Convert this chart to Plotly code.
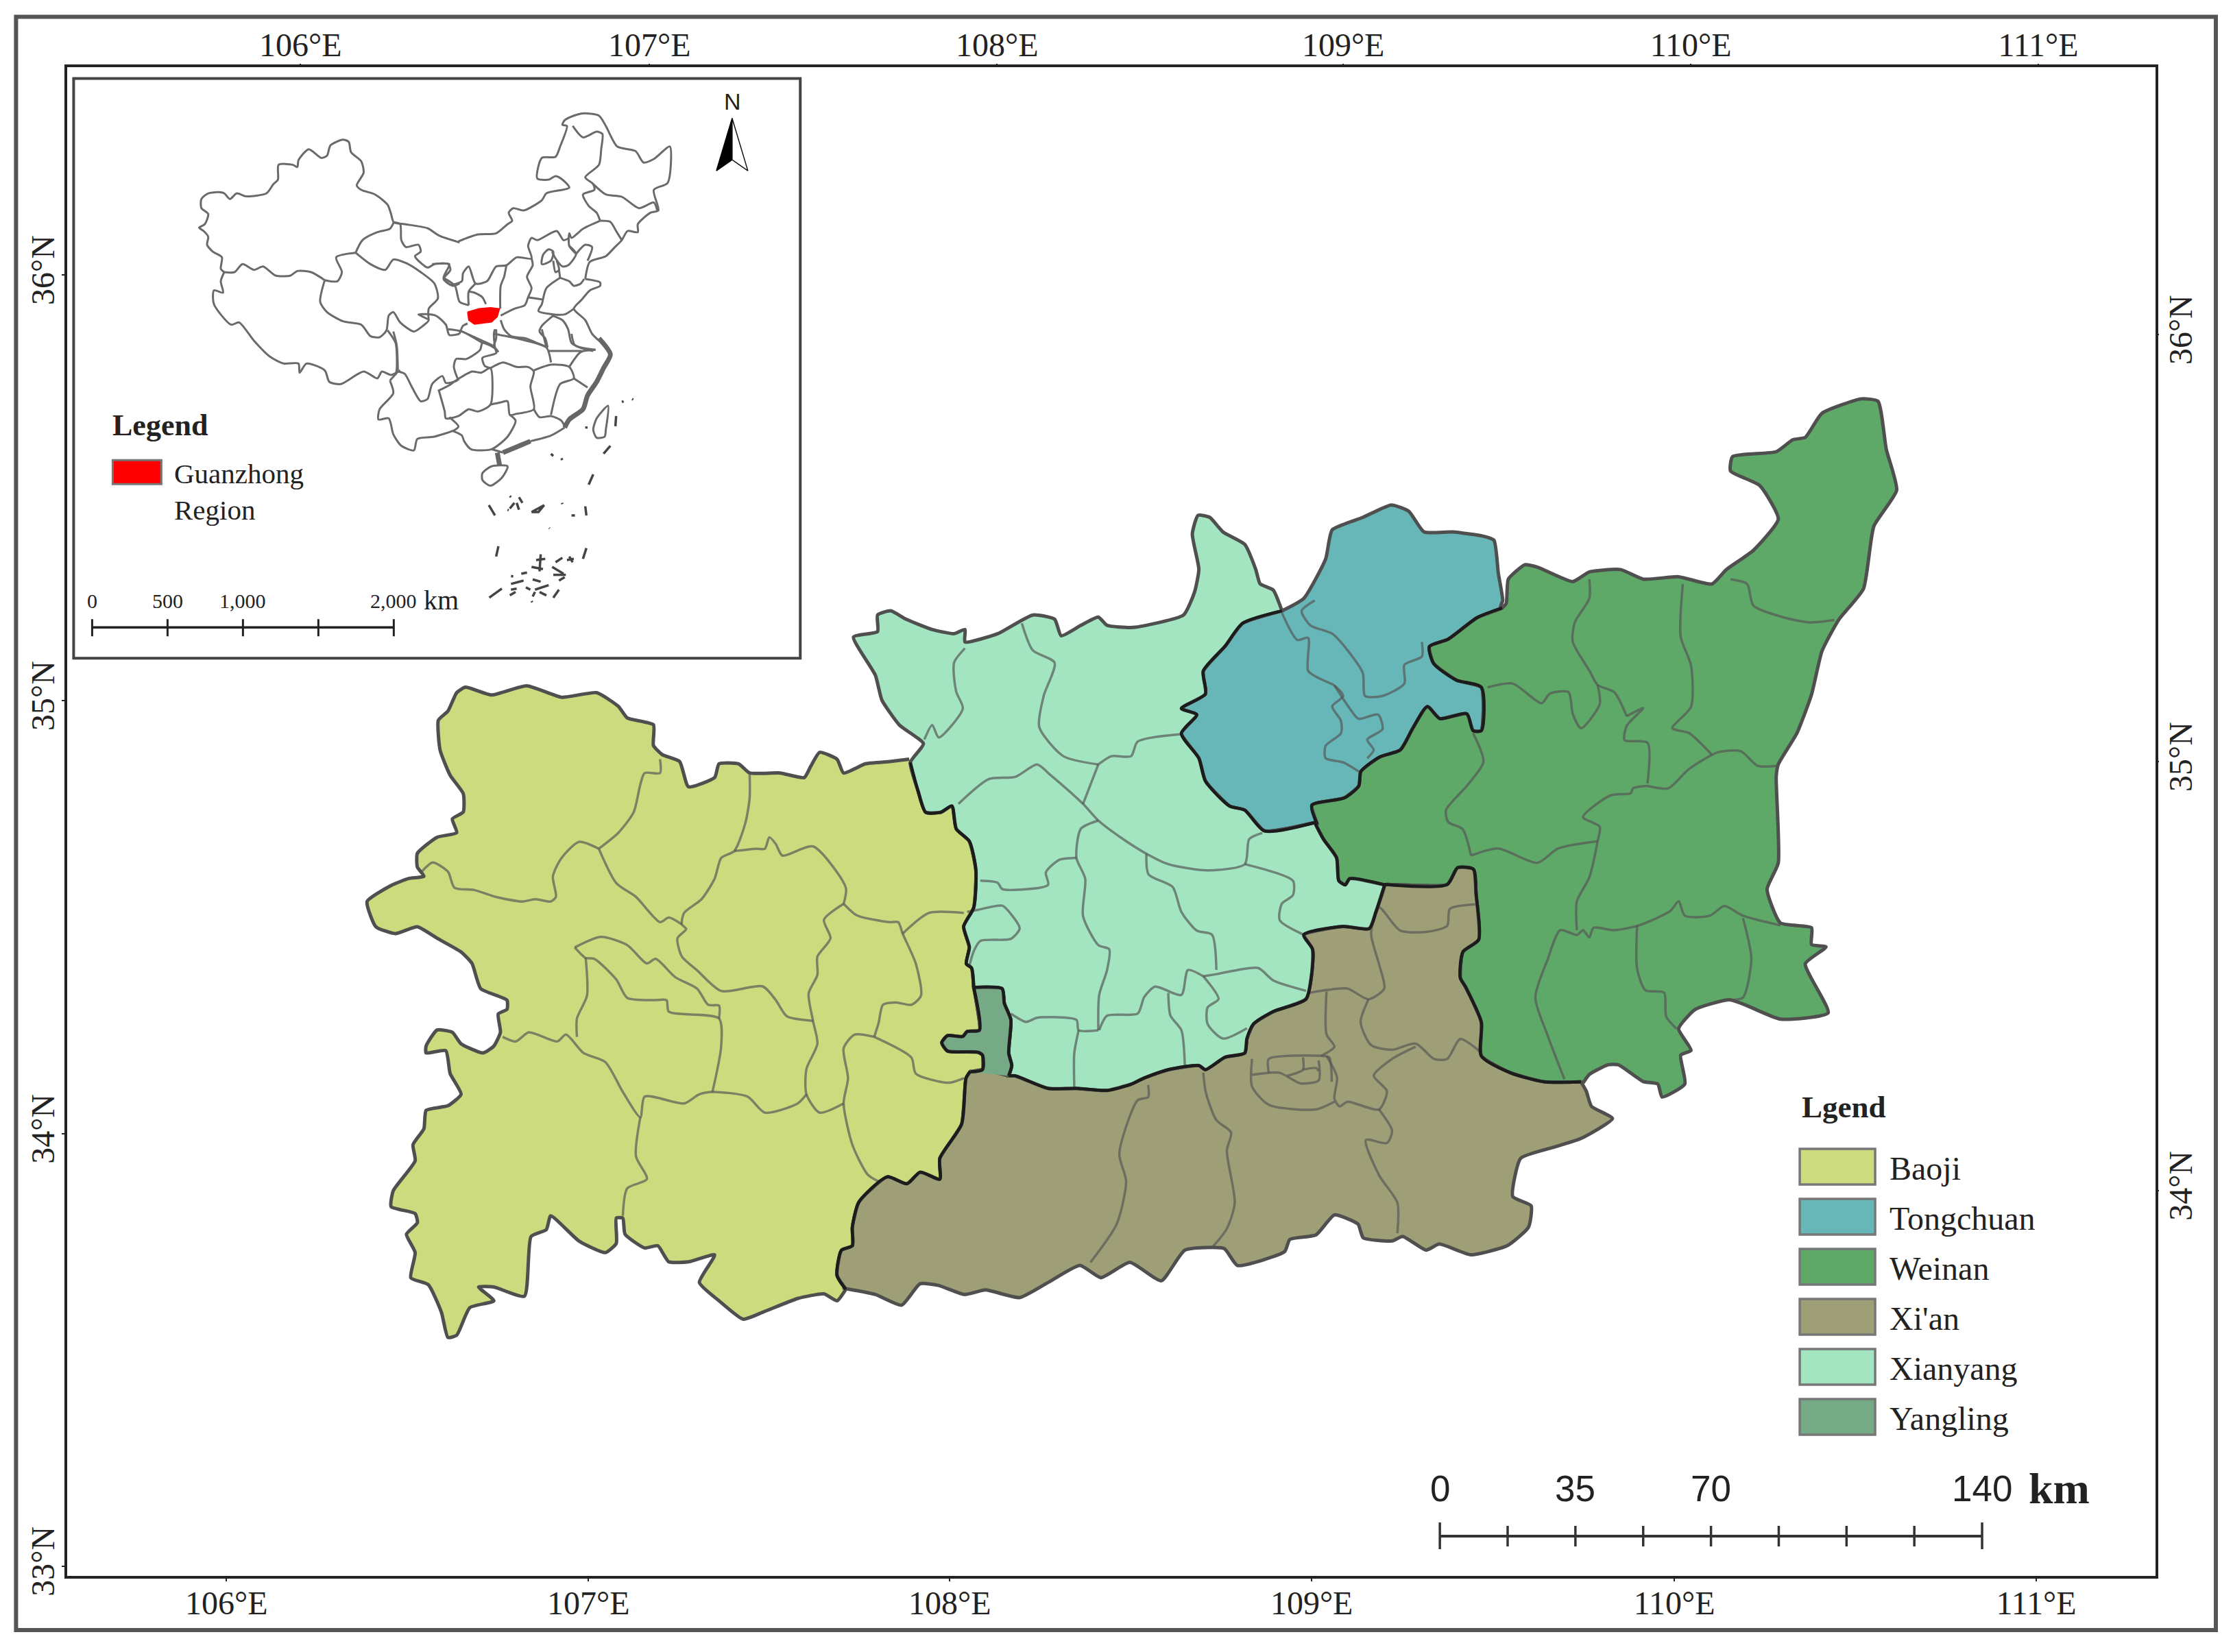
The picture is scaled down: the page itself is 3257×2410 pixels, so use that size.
import plotly.graph_objects as go

# map is traced in reference pixels; each traced list comes from one crop window
# window = (left, top, width, height, size of the crop picture)
T1 = (0, 0, 1200, 1000, 1568)
T2 = (500, 950, 1000, 1050, 1568)
T3 = (1200, 700, 1000, 950, 1568)
T4 = (1900, 550, 950, 1100, 1568)
T5 = (1200, 1250, 1200, 700, 1568)
C1 = (270, 180, 400, 400, 1200)
C2 = (620, 150, 400, 400, 1200)
C3 = (540, 480, 400, 400, 1200)


def crop(box, pts):
    x0, y0, w, h, win = box
    return [(x0 + px * w / win, y0 + py * h / win) for px, py in pts]


CITY_NAMES = ["Baoji", "Tongchuan", "Weinan", "Xi'an", "Xianyang", "Yangling"]
CITY_COLORS = ["#CDDB7F", "#67B6B8", "#5EA868", "#9F9F77", "#A3E5C1", "#76A986"]

# outer and shared borders
BAOJI_OUTER = crop(T2, [(1295,235),(1250,240),(1195,245),(1145,265),(1130,235),(1090,220),(1070,250),(1055,275),(1000,265),(930,265),(905,245),(860,245),(850,275),(790,295),(770,240),(730,225),(710,205),(710,160),(650,145),(630,120),(580,90),(500,100),(420,75),(340,95),(280,78),(260,90),(240,130),(218,150),(222,215),(245,270),(275,310),(275,350),(250,365),(260,395),(215,405),(170,440),(170,470),(185,490),(150,495),(110,510),(55,545),(75,600),(120,615),(170,600),(215,625),(270,655),(295,680),(315,735),(375,760),(375,780),(355,790),(360,830),(345,860),(320,875),(270,855),(250,830),(215,825),(190,860),(190,875),(235,870),(245,920),(270,965),(240,990),(190,1000),(185,1040),(160,1075),(165,1110),(115,1175),(110,1210),(165,1225),(170,1245),(145,1270),(165,1310),(155,1365),(195,1380),(225,1440),(240,1495),(260,1490),(290,1430),(345,1415),(310,1385),(345,1385),(415,1405),(430,1275),(465,1260),(475,1230),(540,1285),(600,1310),(625,1290),(625,1235),(640,1235),(645,1270),(690,1300),(720,1295),(745,1330),(790,1330),(850,1315),(815,1375),(860,1415),(915,1455),(960,1440),(1040,1410),(1100,1400),(1130,1415),(1150,1390)])
BAOJI_XIAN = crop(T2, [(1150,1390),(1130,1360),(1140,1305),(1165,1295),(1165,1255),(1180,1200),(1245,1145),(1290,1160),(1320,1135),(1365,1150),(1365,1105),(1415,1030),(1425,930),(1435,915)])
YANGLING_WEST = crop(T3, [(338,1425),(365,1420),(365,1385),(355,1378),(285,1375),(272,1355),(285,1338),(320,1340),(330,1328),(358,1325),(345,1222)])
YANGLING_EAST = crop(T3, [(345,1222),(410,1225),(415,1260),(430,1300),(425,1380),(432,1410),(425,1435)])
BAOJI_XIANYANG = crop(T3, [(345,1222),(340,1175),(328,1165),(335,1125),(322,1075),(345,1030),(350,940),(335,870),(305,840),(295,785),(270,800),(235,800),(218,750),(200,680)])
XIANYANG_NORTH = crop(T3, [(200,680),(230,635),(175,590),(135,530),(120,470),(70,378),(125,365),(125,325),(155,315),(190,335),(250,360),(300,370),(325,360),(325,390),(400,370),(480,325),(530,335),(545,375),(590,350),(630,330),(650,350),(710,355),(825,325),(850,270),(860,215),(845,130),(858,85),(885,90),(915,125),(965,155),(990,215),(1000,250),(1030,265),(1050,315)])
XIANYANG_TONGCHUAN = crop(T3, [(1050,315),(960,345),(920,400),(870,460),(875,515),(820,550),(855,565),(820,610),(860,670),(875,725),(930,785),(965,795),(1010,845),(1125,825)])
XIANYANG_WEINAN = crop(T3, [(1125,825),(1145,865),(1175,910),(1180,965),(1195,975),(1205,960),(1285,975)])
XIANYANG_XIAN = crop(T3, [(1285,975),(1265,1040),(1250,1080),(1190,1075),(1100,1095),(1120,1130),(1118,1190),(1105,1250),(1030,1280),(985,1310),(970,1345),(965,1380),(920,1390),(875,1420),(860,1410),(790,1420),(735,1440),(705,1455),(650,1470),(580,1465),(515,1465),(440,1435),(425,1435)])
XIAN_SOUTH = crop(T5, [(40,1410),(100,1430),(150,1465),(185,1395),(220,1400),(270,1430),(310,1415),(375,1440),(430,1390),(490,1335),(530,1375),(585,1325),(645,1385),(690,1285),(765,1280),(790,1335),(880,1290),(890,1250),(940,1235),(975,1170),(1020,1200),(1030,1245),(1085,1255),(1105,1240),(1150,1285),(1175,1265),(1235,1300),(1305,1270),(1345,1210),(1350,1140),(1315,1110),(1330,985),(1390,950),(1445,920),(1505,855),(1465,815),(1455,765),(1445,735)])
XIAN_WEINAN = crop(T5, [(1445,735),(1375,735),(1310,705),(1255,650),(1255,540),(1225,425),(1215,395),(1220,310),(1250,270),(1245,120),(1240,40),(1210,35),(1190,90),(1070,90)])
WEINAN_OUTER = crop(T4, [(675,1468),(690,1450),(735,1430),(760,1430),(820,1465),(855,1470),(865,1497),(920,1470),(910,1410),(935,1400),(905,1355),(945,1315),(1030,1295),(1150,1335),(1265,1322),(1210,1220),(1260,1185),(1225,1180),(1225,1145),(1150,1135),(1118,1065),(1145,1010),(1140,830),(1145,805),(1190,740),(1225,660),(1250,570),(1290,505),(1350,440),(1375,310),(1430,235),(1405,150),(1385,50),(1345,45),(1250,75),(1210,125),(1180,130),(1140,155),(1035,165),(1030,195),(1100,225),(1145,295),(1085,360),(1020,400),(985,430),(905,415),(820,420),(765,400),(690,405),(650,425),(565,395),(535,390),(495,420),(490,470)])
WEINAN_TONGCHUAN = crop(T4, [(480,480),(420,500),(350,545),(305,560),(315,595),(370,630),(430,645),(430,735),(410,735),(395,700),(330,710),(300,685),(265,730),(235,775),(185,790),(140,820),(135,850),(100,875),(22,890),(35,930)])
TONGCHUAN_OUTER = crop(T3, [(1050,315),(1100,285),(1150,190),(1165,120),(1235,90),(1300,60),(1340,75),(1375,125),(1440,125),(1510,135),(1535,145),(1545,225),(1555,290),(1550,305)])

SHARED_BORDERS = [BAOJI_XIAN, YANGLING_WEST, YANGLING_EAST, BAOJI_XIANYANG, XIANYANG_TONGCHUAN,
                  XIANYANG_WEINAN, XIANYANG_XIAN, XIAN_WEINAN, WEINAN_TONGCHUAN]

CITY_OUTLINES = [
    BAOJI_OUTER + BAOJI_XIAN + YANGLING_WEST + BAOJI_XIANYANG,
    XIANYANG_TONGCHUAN[::-1] + TONGCHUAN_OUTER + WEINAN_TONGCHUAN,
    WEINAN_OUTER + WEINAN_TONGCHUAN + XIANYANG_WEINAN + XIAN_WEINAN[::-1],
    YANGLING_WEST[:2] + YANGLING_EAST[-1:] + XIANYANG_XIAN[::-1] + XIAN_WEINAN[::-1] + XIAN_SOUTH[::-1] + BAOJI_XIAN,
    XIANYANG_NORTH + XIANYANG_TONGCHUAN + XIANYANG_WEINAN + XIANYANG_XIAN + YANGLING_EAST[::-1] + BAOJI_XIANYANG,
    YANGLING_WEST + YANGLING_EAST,
]

# county borders inside each city
COUNTY_LINES = [crop(T2, s) for s in [
    [(725,235),(725,265),(690,265),(680,290),(665,350),(630,395),(585,430)],
    [(585,430),(540,415),(500,450),(480,490),(487,535),(475,545),(440,540),(410,545),(350,535),(300,520),(255,515),(240,480),(205,460),(180,480)],
    [(585,430),(625,505),(670,535),(725,590),(745,580),(775,595)],
    [(930,265),(930,320),(920,375),(895,435),(865,450),(850,495),(820,540),(780,570),(775,595),(785,605),(765,625),(775,665),(810,695),(865,740),(960,730),(990,760),(1015,795),(1075,805)],
    [(895,435),(945,430),(965,430),(975,405),(990,420),(1005,445),(1075,425),(1150,515),(1145,550)],
    [(1145,550),(1100,585),(1115,625),(1085,665),(1085,705),(1065,745),(1075,805),(1085,855),(1060,910),(1060,965),(1090,1005),(1145,985)],
    [(1145,550),(1175,575),(1250,590),(1270,590),(1280,615),(1310,680),(1322,750),(1300,770),(1265,765),(1235,770),(1225,810),(1215,840)],
    [(1280,615),(1340,570),(1420,570)],
    [(1215,840),(1170,835),(1145,865),(1155,930),(1145,985),(1165,1075),(1200,1140),(1225,1155)],
    [(1215,840),(1300,885),(1310,920),(1385,940),(1420,930)],
    [(530,645),(590,622),(650,640),(695,680),(715,670),(760,710),(810,735),(835,770),(860,772),(860,800)],
    [(530,645),(555,668),(575,670),(625,715),(650,755),(710,760),(740,760),(745,785),(860,800),(865,860),(845,960)],
    [(555,668),(558,750),(535,800),(535,840)],
    [(365,840),(395,850),(425,830),(490,850),(510,835),(550,875),(600,895),(640,960),(680,1015),(690,970),(780,985),(815,965),(845,960),(925,970),(965,1005),(1040,985),(1060,965)],
    [(680,1015),(670,1100),(695,1150),(650,1170),(640,1230)],
]] + [crop(T3, s) for s in [
    [(325,405),(300,440),(305,510),(320,550),(265,620),(250,590),(232,625)],
    [(455,345),(480,410),(530,440),(505,520),(495,595),(550,665),(630,685)],
    [(630,685),(660,665),(705,665),(720,630),(820,612)],
    [(630,685),(595,780)],
    [(310,780),(380,720),(440,715),(490,685),(520,710),(595,780),(630,820),(680,860),(740,900),(790,925),(880,940),(965,925),(975,865),(1005,850)],
    [(630,820),(590,840),(580,910),(600,960),(595,1050),(630,1120),(655,1130),(650,1180),(632,1240),(630,1325)],
    [(580,910),(540,915),(510,945),(515,975),(410,985),(400,970),(360,965)],
    [(740,900),(745,950),(800,980),(820,1040),(855,1085),(890,1095),(900,1180)],
    [(965,925),(1075,965),(1075,1000),(1050,1020),(1045,1060),(1100,1095)],
    [(870,1195),(900,1190),(995,1175),(1030,1205),(1105,1230)],
    [(870,1195),(835,1180),(820,1240),(760,1220),(735,1245),(720,1285),(650,1290),(632,1325)],
    [(870,1195),(905,1250),(880,1270),(880,1310),(915,1345),(970,1320)],
    [(790,1235),(795,1290),(820,1325),(828,1415)],
    [(430,1285),(465,1305),(490,1295),(580,1300),(585,1325),(630,1325)],
    [(585,1325),(575,1380),(575,1462)],
    [(330,1040),(355,1035),(410,1025),(430,1045),(450,1080),(430,1105),(360,1110),(345,1135),(335,1170)],
    [(1050,320),(1085,385),(1110,380),(1110,460),(1140,480),(1170,495),(1190,520),(1165,545),(1185,580),(1185,610),(1150,640),(1150,670),(1190,680),(1230,705)],
    [(1125,290),(1095,315),(1115,350),(1165,370),(1200,410),(1235,465),(1240,520),(1280,520),(1330,490),(1330,445),(1370,425),(1370,390)],
    [(1170,495),(1205,550),(1225,575),(1270,565),(1280,600),(1245,625),(1260,650),(1245,670)],
]] + [crop(T4, s) for s in [
    [(690,420),(690,460),(655,510),(650,550),(690,610),(710,640),(750,655),(780,705)],
    [(445,645),(505,637),(575,678),(595,658),(640,655),(650,700),(670,730),(715,680),(710,640)],
    [(780,705),(820,688),(780,725),(775,755),(830,760),(830,845)],
    [(915,430),(910,540),(935,600),(935,685),(890,730),(930,740),(985,785)],
    [(830,850),(880,855),(930,815),(1000,780),(1055,778),(1095,808),(1145,808)],
    [(1030,420),(1070,430),(1085,475),(1160,500),(1220,510),(1280,505)],
    [(830,850),(795,855),(790,865),(740,870),(675,915),(715,935),(710,965),(690,1040),(660,1090),(660,1150)],
    [(410,740),(435,800),(395,850),(345,900),(350,925),(385,940),(405,995)],
    [(405,995),(470,980),(565,1010),(615,980),(710,965)],
    [(1150,1140),(1060,1120),(1015,1100),(980,1120),(920,1120),(905,1090),(885,1110),(810,1140),(750,1150),(700,1145),(690,1165),(675,1150),(660,1160),(620,1150),(590,1210),(560,1290),(590,1370),(630,1460)],
    [(805,1140),(805,1230),(825,1275),(870,1280),(875,1330),(900,1355)],
    [(1060,1125),(1080,1210),(1060,1290),(1030,1295)],
]] + [crop(T5, s) for s in [
    [(620,745),(620,785),(600,795),(565,970),(578,1060),(560,1200),(510,1325)],
    [(725,705),(730,770),(750,860),(778,900),(770,960),(785,1130),(770,1215),(740,1280)],
    [(925,445),(960,435),(1000,430),(1040,465),(1070,430),(1060,350),(1045,250),(1060,165),(1100,240),(1150,245),(1190,225),(1195,170),(1245,155)],
    [(1040,465),(1025,540),(1045,615),(1085,630),(1130,610),(1165,660),(1190,660),(1215,595),(1255,640)],
    [(960,440),(960,580),(975,620),(950,650)],
    [(1130,620),(1085,660),(1050,715),(1075,765),(1060,825),(1000,800),(985,815),(975,790),(980,720),(960,650)],
    [(1060,825),(1085,895),(1075,935),(1035,925),(1060,1040),(1095,1130),(1095,1230)],
    [(818,660),(818,750),(850,810),(940,825),(975,800)],
    [(818,712),(870,705),(910,740),(945,730),(945,665)],
    [(850,705),(850,660),(950,650),(965,655),(970,735)],
    [(915,655),(915,695),(885,715)],
    [(915,695),(940,690),(945,700)],
]]

# inset map of China
CHINA_WEST = [crop(C1, s) for s in [
    [(170,650),(155,635),(160,585),(120,560),(95,530),(100,495),(80,470),(60,455),(85,440),(100,395),(70,370),(70,330),(100,305),(145,300),(170,305),(195,330),(225,305),(265,318),(355,305),(385,265),(405,245),(408,180),(470,180),(490,190),(495,160),(540,112),(595,150),(620,140),(635,95),(690,70),(715,80),(725,125),(770,165),(780,215),(750,270),(770,290),(830,310),(885,355),(900,395),(912,432),(960,440),(1060,458),(1110,490),(1200,520)],
    [(170,650),(215,650),(250,615),(300,640),(340,625),(395,665),(460,665),(490,645),(550,650),(610,685)],
    [(610,685),(665,690),(685,650),(660,585),(745,565)],
    [(745,565),(775,510),(840,475),(895,460),(912,432)],
    [(745,565),(810,615),(875,640),(910,595),(965,610),(1030,650),(1090,700),(1105,765),(1065,810),(1065,860)],
    [(610,685),(590,780),(620,825),(690,865),(770,880),(810,930),(850,935),(880,905),(890,840),(910,825),(940,870),(1000,910),(1040,885),(1065,860),(1020,835),(1095,840),(1140,880),(1155,925),(1200,920)],
    [(885,905),(920,960),(925,1075),(920,1100)],
    [(170,650),(155,690),(165,740),(125,730),(125,790),(200,880),(235,870),(300,950),(370,1020),(430,1050),(495,1050),(500,1090),(530,1050),(610,1080),(630,1130),(680,1140),(780,1085),(840,1115),(860,1085),(900,1100),(940,1080)],
    [(912,432),(940,440),(945,510),(965,540),(1020,530),(1030,560),(1005,580),(1060,630),(1090,615),(1150,615),(1160,640),(1130,680),(1170,710),(1200,700)],
]]
CHINA_NORTH = [crop(C2, s) for s in [
    [(145,605),(230,575),(310,570),(360,530),(380,515),(365,480),(385,460),(430,470),(510,425),(530,395),(630,370),(600,335),(570,320),(540,335),(490,330),(510,240),(570,235),(590,190),(620,100),(600,95),(610,75),(650,55),(690,45),(760,55),(790,100),(840,190),(920,210),(955,260),(1000,245),(1070,190),(1075,260),(1060,350),(1000,380),(1020,470),(985,480),(930,530),(930,565),(885,560),(860,600),(830,630),(790,670),(720,695),(700,770)],
    [(645,100),(690,150),(750,125),(775,135),(770,200),(760,270),(700,325),(735,355),(740,380),(690,400),(715,450),(750,480),(765,515)],
    [(735,355),(790,400),(860,410),(935,460),(1000,435),(1015,470)],
    [(765,515),(810,520),(835,560),(860,600)],
    [(765,515),(690,550),(640,590),(630,570),(630,625),(660,660)],
    [(630,590),(605,600),(575,560),(490,600),(465,590),(450,625),(465,680),(400,675),(355,710),(310,715),(270,780),(220,790),(190,715),(165,745),(160,780),(110,795),(80,765),(105,705),(30,705)],
    [(465,680),(470,710),(445,760),(465,810),(450,850),(435,885),(390,900),(330,930)],
    [(450,850),(515,860)],
    [(355,710),(345,760),(330,800),(328,900)],
    [(80,765),(130,800),(150,870),(190,885)],
    [(190,825),(215,830),(250,850),(265,880)],
    [(220,790),(190,825),(190,885)],
    [(150,1010),(165,975),(185,965)],
    [(150,995),(250,1040),(300,1065),(320,1090)],
    [(330,950),(345,990),(375,1020),(440,1030),(500,1055),(535,1070)],
    [(310,990),(310,1030),(300,1060)],
    [(540,640),(515,665),(510,705),(550,690),(560,650),(540,640)],
    [(560,690),(570,740),(585,730),(575,690)],
    [(630,625),(660,660),(625,710),(600,715),(570,680),(555,650)],
    [(585,730),(590,765)],
    [(660,660),(700,620),(730,630),(710,690)],
    [(590,765),(630,780),(650,800),(680,790),(695,770)],
    [(515,860),(530,810),(590,765)],
    [(515,860),(510,880),(495,910),(560,925),(610,925),(650,900)],
    [(700,770),(765,785),(765,800),(720,820),(685,860),(650,900),(700,950),(730,1010),(760,1040)],
    [(555,930),(600,950),(625,990),(640,1050),(690,1075),(735,1085)],
    [(560,930),(510,975),(500,1000),(525,1030),(535,1070)],
]]
CHINA_SOUTH = [crop(C3, s) for s in [
    [(100,10),(115,70),(120,180)],
    [(85,225),(100,280),(40,350),(35,395),(80,390),(100,460),(135,510),(190,530),(205,480),(280,470),(370,440),(385,425),(345,385)],
    [(120,185),(85,225)],
    [(120,185),(150,195),(180,250),(220,315),(250,305),(270,240),(315,205),(330,235),(380,225)],
    [(300,270),(310,305),(325,360),(330,390),(385,380),(430,350),(470,360),(525,330),(525,170),(485,190),(445,185),(380,220),(345,245),(295,270)],
    [(385,225),(365,165),(375,130),(420,130),(480,90),(490,60),(545,85),(550,105),(490,125),(500,160),(525,170)],
    [(525,170),(580,145),(640,165),(690,165),(715,185),(700,250),(715,350),(640,370),(610,375),(600,315),(570,320),(525,330)],
    [(715,180),(790,155),(870,165),(890,215),(830,240),(790,375)],
    [(715,350),(740,385),(790,380),(835,400),(850,425)],
    [(890,215),(950,255)],
    [(870,165),(920,100),(985,90)],
    [(545,85),(540,20),(545,0)],
    [(490,60),(400,10),(340,0)],
    [(540,20),(640,40),(770,80),(790,145)],
    [(780,95),(925,95)],
    [(770,80),(750,0)],
    [(880,20),(895,70),(985,90)],
    [(610,375),(635,400),(600,470),(530,525),(440,525),(410,490),(400,465),(360,445)],
    [(850,430),(790,465),(700,490)],
    [(530,525),(580,540)],
    [(490,630),(530,600),(600,600),(575,650),(525,685),(490,660),(490,630)],
    [(1040,335),(1030,440),(1025,470),(990,475),(975,440),(990,390),(1040,335)],
]]
CHINA_COAST_THICK = [crop(C3, s) for s in [
    [(1000,40),(1050,110),(1020,170),(990,230),(950,290),(930,350),(870,395),(850,430)],
    [(700,490),(640,515),(580,540)],
    [(555,540),(565,595)],
]]
CHINA_ISLANDS = [crop(C3, s) for s in [
    [(945,425),(945,435)],[(1075,380),(1072,425)],[(1020,545),(1050,510)],[(790,545),(800,555)],[(835,565),(840,572)],
    [(1100,318),(1108,315)],[(1145,305),(1150,308)],[(975,635),(955,680)],[(518,770),(545,815)],
    [(610,730),(615,735)],[(630,760),(610,785)],[(650,735),(665,760)],[(640,760),(650,790)],[(600,790),(605,792)],
    [(705,800),(760,770),(735,800),(705,800)],[(838,760),(840,765)],[(880,815),(895,815)],[(940,775),(945,815)],[(782,870),(784,872)],
    [(560,950),(550,995)],[(945,958),(930,1005)],[(745,985),(740,1060)],[(725,1010),(765,1005)],[(705,1040),(755,1050)],
    [(795,1040),(845,1070)],[(810,1020),(840,1000)],[(870,995),(885,1020)],[(860,1010),(890,1005)],[(800,1075),(855,1075)],
    [(825,1100),(850,1085)],[(660,1070),(685,1065)],[(615,1080),(625,1082)],[(615,1115),(670,1100)],[(710,1095),(745,1105)],
    [(615,1140),(640,1135)],[(610,1165),(635,1150)],[(680,1130),(700,1140)],[(720,1140),(780,1120)],[(710,1170),(720,1150)],
    [(740,1150),(770,1165)],[(800,1175),(825,1140)],[(520,1175),(575,1135)],[(705,1190),(708,1195)],
]]
GUANZHONG = crop(C2, [(185,915),(235,900),(285,895),(325,900),(315,935),(290,958),(215,968),(190,950),(185,915)])
NORTH_LEFT = crop(T1, [(1395,270),(1365,390),(1395,365),(1395,270)])
NORTH_RIGHT = crop(T1, [(1395,270),(1425,390),(1395,365),(1395,270)])

# tick positions in reference pixels with their labels
LON_LABELS = ["106°E", "107°E", "108°E", "109°E", "110°E", "111°E"]
LON_BOTTOM = [330, 858, 1385, 1913, 2442, 2970]
LON_TOP = [438, 947, 1454, 1959, 2466, 2973]
LAT_LABELS = ["33°N", "34°N", "35°N", "36°N"]
LAT_LEFT = [2285, 1654, 1022, 401]
LAT_RIGHT = [None, 1737, 1111, 488]

SCALE_KM = [0, 17.5, 35, 52.5, 70, 87.5, 105, 122.5, 140]
SCALE_LABELS = {0: "0", 35: "35", 70: "70", 140: "140"}
INSET_KM = [0, 500, 1000, 1500, 2000]
INSET_LABELS = {0: "0", 500: "500", 1000: "1,000", 2000: "2,000"}

SERIF = "Liberation Serif"
SANS = "Liberation Sans"
INK = "#222222"

X0, X1, Y0, Y1 = 97.6, 3144, 97.6, 2299
W, H = 3257, 2410


def unzip(pts):
    return [p[0] for p in pts], [p[1] for p in pts]


def joined(segments):
    xs, ys = [], []
    for seg in segments:
        sx, sy = unzip(seg)
        xs += sx + [None]
        ys += sy + [None]
    return xs, ys


def add_lines(fig, segments, color, width, shape="spline"):
    xs, ys = joined(segments)
    fig.add_trace(go.Scatter(x=xs, y=ys, mode="lines", hoverinfo="skip",
                             line=dict(color=color, width=width, shape=shape, smoothing=0.7)))


def label(fig, x, y, text, size, family=SERIF, bold=False, anchor="center"):
    fig.add_annotation(x=x, y=y, text=f"<b>{text}</b>" if bold else text, showarrow=False,
                       xanchor=anchor, yanchor="middle",
                       font=dict(family=family, size=size, color=INK))


fig = go.Figure()

for name, color, outline in zip(CITY_NAMES, CITY_COLORS, CITY_OUTLINES):
    xs, ys = unzip(outline)
    fig.add_trace(go.Scatter(x=xs, y=ys, mode="lines", fill="toself", fillcolor=color, name=name,
                             line=dict(color="#4f4f4f", width=5, shape="spline", smoothing=0.5),
                             hoverinfo="name"))
add_lines(fig, COUNTY_LINES, "rgba(85,85,85,0.68)", 3.5)
add_lines(fig, SHARED_BORDERS, "#1c1c1c", 4.5)

# inset
add_lines(fig, CHINA_WEST + CHINA_NORTH + CHINA_SOUTH, "#6a6a6a", 3)
add_lines(fig, CHINA_COAST_THICK, "#666666", 7)
add_lines(fig, CHINA_ISLANDS, "#444444", 3.5, shape="linear")
xs, ys = unzip(GUANZHONG)
fig.add_trace(go.Scatter(x=xs, y=ys, mode="lines", fill="toself", fillcolor="#FF0000",
                         line=dict(color="#FF0000", width=1.5), hoverinfo="skip"))
xs, ys = unzip(NORTH_LEFT)
fig.add_trace(go.Scatter(x=xs, y=ys, mode="lines", fill="toself", fillcolor="#000000",
                         line=dict(color="#000000", width=1.5), hoverinfo="skip"))
xs, ys = unzip(NORTH_RIGHT)
fig.add_trace(go.Scatter(x=xs, y=ys, mode="lines", fill="toself", fillcolor="#ffffff",
                         line=dict(color="#111111", width=1.5), hoverinfo="skip"))
label(fig, 1068, 148, "N", 34, SANS)
label(fig, 162, 620, "Legend", 44, bold=True, anchor="left")
label(fig, 252, 691, "Guanzhong", 41, anchor="left")
label(fig, 252, 744, "Region", 41, anchor="left")
fig.add_shape(type="rect", x0=164, x1=235, y0=671, y1=706, fillcolor="#FF0000",
              line=dict(color="#777777", width=3))

# inset scale bar
inset_x = [134 + km * (574 - 134) / 2000 for km in INSET_KM]
add_lines(fig, [[(inset_x[0], 915), (inset_x[-1], 915)]], "#222222", 3.5, shape="linear")
add_lines(fig, [[(x, 903), (x, 928)] for x in inset_x], "#222222", 3, shape="linear")
for km, x in zip(INSET_KM, inset_x):
    if km in INSET_LABELS:
        label(fig, x, 876, INSET_LABELS[km], 30)
label(fig, 643, 875, "km", 40)

# main legend
for i, (name, color) in enumerate(zip(CITY_NAMES, CITY_COLORS)):
    top = 1676 + i * 73
    fig.add_shape(type="rect", x0=2625, x1=2735, y0=top, y1=top + 52, fillcolor=color,
                  line=dict(color="#777777", width=3.5))
    label(fig, 2754, top + 28, name, 48, anchor="left")
label(fig, 2626, 1615, "Lgend", 45, bold=True, anchor="left")

# main scale bar
bar_x = [2100 + km * (2891 - 2100) / 140 for km in SCALE_KM]
add_lines(fig, [[(bar_x[0], 2241), (bar_x[-1], 2241)]], "#333333", 4, shape="linear")
add_lines(fig, [[(x, 2221 if km in (0, 140) else 2226), (x, 2260 if km in (0, 140) else 2256)]
                for km, x in zip(SCALE_KM, bar_x)], "#333333", 3.5, shape="linear")
for km, x in zip(SCALE_KM, bar_x):
    if km in SCALE_LABELS:
        label(fig, x, 2171, SCALE_LABELS[km], 53, SANS)
label(fig, 3003, 2171, "km", 64, bold=True)

# frames
fig.add_shape(type="rect", x0=107, x1=1167, y0=114, y1=960, fillcolor="white",
              line=dict(color="#444444", width=4), layer="below")
fig.add_shape(type="rect", xref="paper", yref="paper", layer="below",
              x0=(23 - X0) / (X1 - X0), x1=(3232 - X0) / (X1 - X0),
              y0=(Y1 - 2378) / (Y1 - Y0), y1=(Y1 - 24) / (Y1 - Y0),
              line=dict(color="#555555", width=6))

# the top and right axes need a trace of their own to be drawn
fig.add_trace(go.Scatter(x=[X0], y=[Y0], xaxis="x2", yaxis="y2", mode="markers",
                         marker=dict(opacity=0), hoverinfo="skip"))

common = dict(showgrid=False, zeroline=False, tickmode="array", ticks="outside", ticklen=4,
              tickwidth=2, tickcolor="#222222", tickfont=dict(family=SERIF, size=48, color=INK))
frame = dict(showline=True, linecolor="#222222", linewidth=4, mirror=True)
lat_right = [(v, t) for v, t in zip(LAT_RIGHT, LAT_LABELS) if v is not None]

fig.update_layout(
    width=W, height=H, showlegend=False, paper_bgcolor="white", plot_bgcolor="white",
    margin=dict(l=X0, r=W - X1, t=Y0, b=H - Y1, autoexpand=False),
    xaxis=dict(range=[X0, X1], side="bottom", tickvals=LON_BOTTOM, ticktext=LON_LABELS,
               ticklabelstandoff=-10, **common, **frame),
    yaxis=dict(range=[Y1, Y0], side="left", tickvals=LAT_LEFT, ticktext=LAT_LABELS, tickangle=-90,
               ticklabelstandoff=-8, **common, **frame),
    xaxis2=dict(range=[X0, X1], overlaying="x", side="top", anchor="y2", tickvals=LON_TOP, ticktext=LON_LABELS,
                ticklabelstandoff=-8, **common),
    yaxis2=dict(range=[Y1, Y0], overlaying="y", side="right", anchor="x2", tickvals=[v for v, _ in lat_right],
                ticktext=[t for _, t in lat_right], tickangle=-90, ticklabelstandoff=-10, **common),
)

# the page keeps the browser's default body margin otherwise
fig.write_html("out.html", config={"displayModeBar": False}, post_script="document.body.style.margin = '0';")
